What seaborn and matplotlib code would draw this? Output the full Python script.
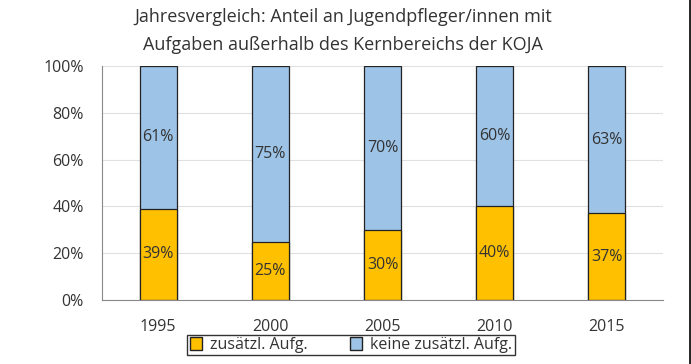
import pandas as pd
import seaborn as sns
import matplotlib.pyplot as plt
from matplotlib.lines import Line2D
from matplotlib.patches import Patch

years = ['1995', '2000', '2005', '2010', '2015']
zusaetzl = [39, 25, 30, 40, 37]
keine = [61, 75, 70, 60, 63]

df = pd.DataFrame({'Jahr': years, 'zus': zusaetzl, 'keine': keine})
df['total'] = df['zus'] + df['keine']

sns.set_style('white')
plt.rcParams['font.family'] = ['Open Sans', 'DejaVu Sans']

orange = '#FFC000'
blue = '#9DC3E6'

fig = plt.figure(figsize=(6.91, 3.64), dpi=100)
ax = fig.add_axes([0.1476, 0.1758, 0.8119, 0.6429])

# stacked: draw totals first (blue), then orange bottom on top
sns.barplot(data=df, x='Jahr', y='total', color=blue, width=0.33,
            edgecolor='#222222', linewidth=0.9, saturation=1, ax=ax)
sns.barplot(data=df, x='Jahr', y='zus', color=orange, width=0.33,
            edgecolor='#222222', linewidth=0.9, saturation=1, ax=ax)

for i, (z, k) in enumerate(zip(zusaetzl, keine)):
    ax.text(i, z / 2, f'{z}%', ha='center', va='center', fontsize=11.5, color='#333333')
    ax.text(i, z + k / 2, f'{k}%', ha='center', va='center', fontsize=11.5, color='#333333')

ax.set_ylim(0, 100)
ax.set_xlim(-0.5, 4.5)
ax.set_yticks(range(0, 101, 20))
ax.set_yticklabels([f'{v}%' for v in range(0, 101, 20)], fontsize=11.5, color='#333333')
ax.tick_params(axis='x', labelsize=11.5, colors='#333333', length=0, pad=14)
ax.tick_params(axis='y', length=0, pad=13)
ax.set_xlabel('')
ax.set_ylabel('')
ax.yaxis.grid(True, color='#e0e0e0', linewidth=0.8)
ax.set_axisbelow(True)
for s in ['top', 'right']:
    ax.spines[s].set_visible(False)
ax.spines['left'].set_color('#888888')
ax.spines['bottom'].set_color('#888888')
ax.spines['left'].set_linewidth(0.8)
ax.spines['bottom'].set_linewidth(0.8)

fig.text(0.497, 0.952, 'Jahresvergleich: Anteil an Jugendpfleger/innen mit',
         ha='center', va='center', fontsize=13, color='#333333')
fig.text(0.497, 0.877, 'Aufgaben außerhalb des Kernbereichs der KOJA',
         ha='center', va='center', fontsize=13, color='#333333')

handles = [Patch(facecolor=orange, edgecolor='#222222', label='zusätzl. Aufg.'),
           Patch(facecolor=blue, edgecolor='#222222', label='keine zusätzl. Aufg.')]
leg = fig.legend(handles=handles, loc='center', bbox_to_anchor=(0.508, 0.052), ncol=2,
                 frameon=True, fancybox=False, fontsize=11.5, handlelength=0.8,
                 handleheight=0.8, handletextpad=0.5, columnspacing=2.6,
                 borderpad=0.15, borderaxespad=0)
leg.get_frame().set_edgecolor('black')
leg.get_frame().set_linewidth(1.0)
for t in leg.get_texts():
    t.set_color('#333333')

fig.add_artist(Line2D([0.9985, 0.9985], [0, 1], color='black', linewidth=1.2,
                      transform=fig.transFigure))

fig.savefig('out.png', dpi=100)
